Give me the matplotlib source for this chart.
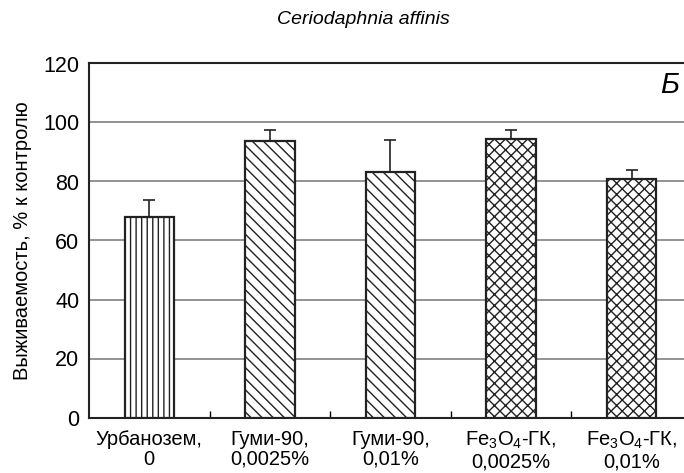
import matplotlib
matplotlib.use("Agg")
import matplotlib.pyplot as plt
import numpy as np

plt.rcParams['font.family'] = ['Liberation Sans', 'DejaVu Sans']
plt.rcParams['mathtext.fontset'] = 'custom'
plt.rcParams['mathtext.rm'] = 'Liberation Sans'
plt.rcParams['mathtext.it'] = 'Liberation Sans:italic'
plt.rcParams['hatch.linewidth'] = 1.0
plt.rcParams['hatch.color'] = '#222222'

# data
categories = ['Урбанозем,\n0', 'Гуми-90,\n0,0025%', 'Гуми-90,\n0,01%',
              'Fe$_3$O$_4$-ГК,\n0,0025%', 'Fe$_3$O$_4$-ГК,\n0,01%']
survival = [68.1, 93.8, 83.2, 94.5, 80.9]
errors = [5.5, 3.6, 10.9, 3.0, 3.0]
hatches = ['|||', '\\\\\\', '\\\\\\', 'xxx', 'xxx']
yticks = [0, 20, 40, 60, 80, 100, 120]

fig = plt.figure(figsize=(6.84, 4.73), dpi=100)
ax = fig.add_axes([89 / 684, 1 - 417.5 / 473, (692 - 89) / 684, (417.5 - 63.5) / 473])

x = np.arange(len(categories))
for i in range(len(categories)):
    ax.bar(x[i], survival[i], width=0.41, color='white', edgecolor='#222222',
           linewidth=1.6, hatch=hatches[i], zorder=3)
ax.errorbar(x, survival, yerr=[np.zeros(len(errors)), errors], fmt='none',
            ecolor='#222222', elinewidth=1.2, capsize=4, capthick=1.2, zorder=2)

ax.set_xlim(-0.5, 4.5)
ax.set_ylim(0, 120)
ax.set_yticks(yticks)
ax.tick_params(axis='y', length=0, labelsize=15.5, pad=7)
ax.yaxis.grid(True, color='#808080', linewidth=1.2, zorder=0)
ax.set_axisbelow(True)

ax.set_xticks(x)
ax.set_xticklabels(categories, fontsize=14.5, linespacing=1.05)
ax.set_xticks(x[:-1] + 0.5, minor=True)
ax.tick_params(axis='x', which='major', length=0, pad=9)
ax.tick_params(axis='x', which='minor', direction='in', length=5, width=1)

for s in ['left', 'top', 'bottom', 'right']:
    ax.spines[s].set_linewidth(1.5)
    ax.spines[s].set_color('#222222')

ax.set_ylabel('Выживаемость, % к контролю', fontsize=14.5, labelpad=8)
ax.text(0.963, 0.94, 'Б', transform=ax.transAxes, fontsize=21, style='italic',
        ha='center', va='center')
fig.text(363 / 684, 1 - 19 / 473, 'Ceriodaphnia affinis', fontsize=14,
         style='italic', ha='center', va='center')

fig.savefig('out.png', dpi=100)
